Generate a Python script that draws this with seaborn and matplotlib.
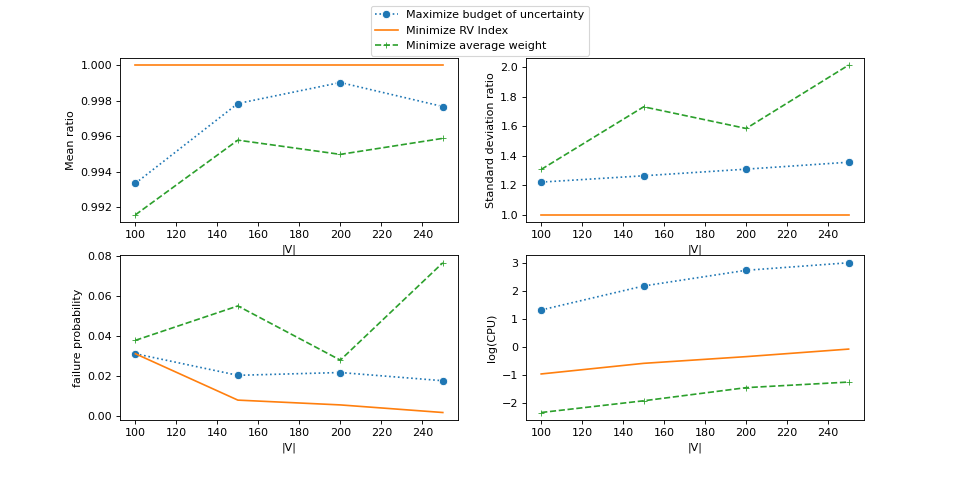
import matplotlib
matplotlib.use("Agg")
import matplotlib.pyplot as plt
import seaborn as sns

# data
sizes = [100, 150, 200, 250]
methods = ["Maximize budget of uncertainty", "Minimize RV Index", "Minimize average weight"]

mean_budget = [0.99335, 0.99784, 0.99902, 0.99767]
mean_rv = [1.0, 1.0, 1.0, 1.0]
mean_weight = [0.99158, 0.99578, 0.99498, 0.99588]

std_budget = [1.222, 1.265, 1.310, 1.357]
std_rv = [1.0, 1.0, 1.0, 1.0]
std_weight = [1.308, 1.733, 1.586, 2.016]

fail_budget = [0.0311, 0.0203, 0.0217, 0.0176]
fail_rv = [0.0311, 0.0079, 0.0055, 0.0017]
fail_weight = [0.0378, 0.0550, 0.0279, 0.0766]

cpu_budget = [1.33, 2.19, 2.75, 3.02]
cpu_rv = [-0.96, -0.58, -0.34, -0.07]
cpu_weight = [-2.34, -1.92, -1.45, -1.25]

colors = ["#1f77b4", "#ff7f0e", "#2ca02c"]
styles = [":", "-", "--"]
markers = ["o", None, "+"]
edges = ["w", "w", "#2ca02c"]
msizes = [7.5, 6, 6]

panels = [
    ("Mean ratio", [mean_budget, mean_rv, mean_weight]),
    ("Standard deviation ratio", [std_budget, std_rv, std_weight]),
    ("failure probability", [fail_budget, fail_rv, fail_weight]),
    ("log(CPU)", [cpu_budget, cpu_rv, cpu_weight]),
]

fig, axes = plt.subplots(2, 2, figsize=(12, 6), dpi=80)
fig.subplots_adjust(left=0.125, right=0.9, bottom=0.125, top=0.88, wspace=0.2, hspace=0.2)

for ax, (ylabel, series) in zip(axes.flat, panels):
    for name, vals, c, ls, mk, ec, ms in zip(methods, series, colors, styles, markers, edges, msizes):
        sns.lineplot(x=sizes, y=vals, ax=ax, color=c, linestyle=ls, marker=mk,
                     markersize=ms, markeredgecolor=ec, label=name)
    if ax.get_legend() is not None:
        ax.get_legend().remove()
    ax.set_xlabel("|V|")
    ax.set_ylabel(ylabel)

handles, labels = axes[0, 0].get_legend_handles_labels()
fig.legend(handles, labels, loc="upper center")

fig.savefig("out.png", dpi=80)
